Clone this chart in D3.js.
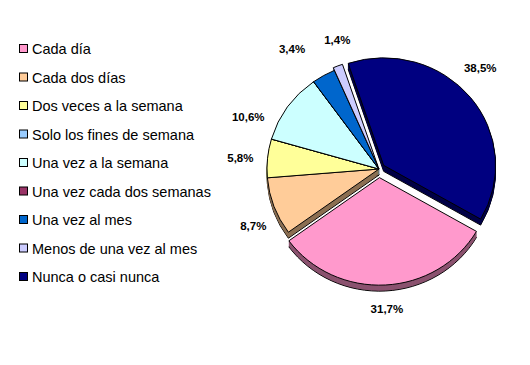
<!DOCTYPE html>
<html>
<head>
<meta charset="utf-8">
<script src="https://cdn.jsdelivr.net/npm/d3@7"></script>
<style>
  html, body { margin: 0; padding: 0; background: #fff; }
  svg { display: block; }
</style>
</head>
<body>
<svg id="chart" width="530" height="365"></svg>
<script>
// ---- data ----
const categories = [
  "Cada día",
  "Cada dos días",
  "Dos veces a la semana",
  "Solo los fines de semana",
  "Una vez a la semana",
  "Una vez cada dos semanas",
  "Una vez al mes",
  "Menos de una vez al mes",
  "Nunca o casi nunca"
];
const values = [31.7, 8.7, 5.8, 0, 10.6, 0, 3.4, 1.4, 38.5];
const labels = ["31,7%", "8,7%", "5,8%", "", "10,6%", "", "3,4%", "1,4%", "38,5%"];

// ---- style ----
const colors = ["#FF99CC", "#FFCC99", "#FFFF99", "#99CCFF", "#CCFFFF", "#993366", "#0066CC", "#CCCCFF", "#000080"];
const explode = [9, 0, 0, 0, 0, 0, 0, 3, 6];
const labelShiftDeg = [0, -5, -1, 0, -12, 0, -5, 4, -8];
const labelExtraR = [0, 0, 0, 0, 0, 0, 14, 0, 0];

const cx = 379, cy = 169, R = 112, ky = 0.96, depth = 6;
const startDeg = 120;

const svg = d3.select("#chart");

const pie = d3.pie().sort(null).value(d => d)
  .startAngle(startDeg * Math.PI / 180)
  .endAngle(startDeg * Math.PI / 180 + 2 * Math.PI);
const arcs = pie(values);
const arcGen = d3.arc().innerRadius(0).outerRadius(R);

function offset(a, i) {
  const m = (a.startAngle + a.endAngle) / 2;
  return [Math.sin(m) * explode[i], -Math.cos(m) * explode[i] * ky];
}

const g = svg.append("g").attr("transform", `translate(${cx},${cy})`);

// side (extrusion) layers
for (let k = depth; k >= 1; k--) {
  arcs.forEach((a, i) => {
    const [ox, oy] = offset(a, i);
    const c = d3.color(colors[i]).darker(1.7);
    g.append("path")
      .attr("d", arcGen(a))
      .attr("transform", `translate(${ox},${oy + k}) scale(1,${ky})`)
      .attr("fill", c)
      .attr("stroke", k === depth ? "#000" : c)
      .attr("stroke-width", k === depth ? 1 : 0.5)
      .attr("stroke-linejoin", "round");
  });
}
// top faces
arcs.forEach((a, i) => {
  const [ox, oy] = offset(a, i);
  g.append("path")
    .attr("d", arcGen(a))
    .attr("transform", `translate(${ox},${oy}) scale(1,${ky})`)
    .attr("fill", colors[i])
    .attr("stroke", "#000")
    .attr("stroke-width", 1)
    .attr("stroke-linejoin", "round");
});

// data labels
const lblR = R + 14;
arcs.forEach((a, i) => {
  if (!labels[i]) return;
  const m = (a.startAngle + a.endAngle) / 2 + labelShiftDeg[i] * Math.PI / 180;
  const [ox, oy] = offset(a, i);
  const t = g.append("text")
    .attr("font-family", "'Liberation Sans', Arial, sans-serif")
    .attr("font-size", "11.5px")
    .attr("font-weight", "bold")
    .attr("fill", "#000")
    .attr("text-anchor", "middle")
    .attr("dominant-baseline", "central")
    .text(labels[i]);
  const w = t.node().getComputedTextLength();
  const L = lblR + labelExtraR[i];
  const x = ox + Math.sin(m) * L + Math.sin(m) * w / 2;
  const y = oy - Math.cos(m) * L - Math.cos(m) * 6;
  t.attr("x", x).attr("y", y);
});

// legend
const legY = d3.scalePoint().domain(categories).range([49, 277]);
const leg = svg.append("g");
categories.forEach((c, i) => {
  const y = legY(c);
  leg.append("rect")
    .attr("x", 19.5).attr("y", y - 4.5)
    .attr("width", 8).attr("height", 8)
    .attr("fill", colors[i]).attr("stroke", "#000").attr("stroke-width", 1);
  leg.append("text")
    .attr("x", 32).attr("y", y)
    .attr("dominant-baseline", "central")
    .attr("font-family", "'Liberation Sans', Arial, sans-serif")
    .attr("font-size", "14.5px")
    .attr("fill", "#000")
    .text(c);
});
</script>
</body>
</html>
